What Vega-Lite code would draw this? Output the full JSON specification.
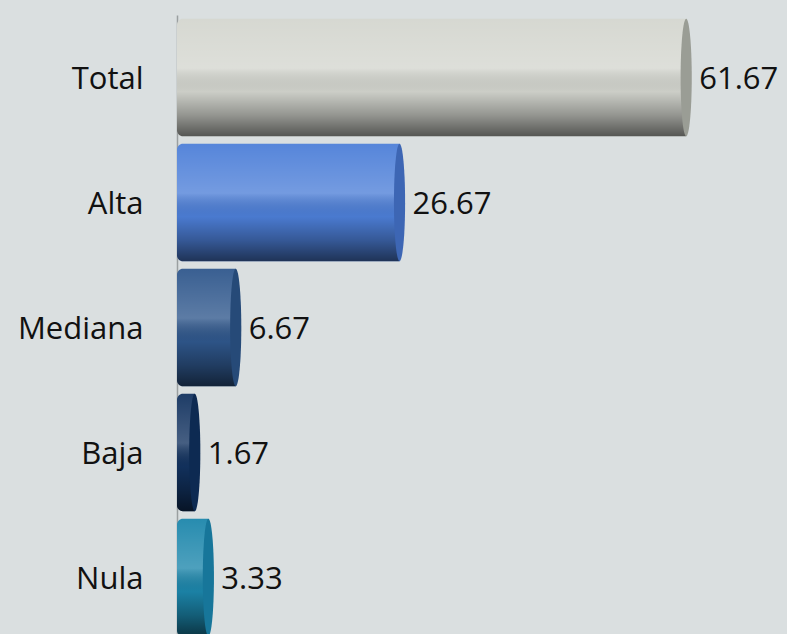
{
  "$schema": "https://vega.github.io/schema/vega-lite/v6.json",
  "autosize": {"type": "none"},
  "padding": {"left": 177, "top": 15, "right": 0, "bottom": 0},
  "width": 610,
  "height": 625,
  "background": "#dadfe0",
  "config": {
    "view": {"stroke": null},
    "font": "Open Sans"
  },
  "data": {
    "values": [
      {"cat": "Total", "value": 61.67},
      {"cat": "Alta", "value": 26.67},
      {"cat": "Mediana", "value": 6.67},
      {"cat": "Baja", "value": 1.67},
      {"cat": "Nula", "value": 3.33}
    ]
  },
  "encoding": {
    "y": {
      "field": "cat",
      "type": "nominal",
      "sort": null,
      "scale": {"paddingInner": 0.06, "paddingOuter": 0.03},
      "axis": {
        "title": null,
        "ticks": false,
        "grid": false,
        "domainColor": "#9a9fa0",
        "domainWidth": 1.5,
        "labelFontSize": 31,
        "labelColor": "#111111",
        "labelPadding": 34,
        "labelOffset": 2,
        "labelFont": "Open Sans"
      }
    },
    "x": {
      "field": "value",
      "type": "quantitative",
      "scale": {"domain": [-0.5, 73.98], "nice": false, "zero": false},
      "axis": null
    }
  },
  "layer": [
    {
      "mark": {"type": "bar", "cornerRadiusTopLeft": 6, "cornerRadiusBottomLeft": 6},
      "encoding": {
        "x2": {"datum": -0.5},
        "color": {
          "field": "cat",
          "type": "nominal",
          "sort": null,
          "scale": {
            "domain": ["Total", "Alta", "Mediana", "Baja", "Nula"],
            "range": ["#d4d6cf", "#4d7fd8", "#2f578c", "#12325f", "#1c86ab"]
          },
          "legend": null
        }
      }
    },
    {
      "mark": {
        "type": "bar",
        "cornerRadiusTopLeft": 6,
        "cornerRadiusBottomLeft": 6,
        "fill": {
          "gradient": "linear",
          "x1": 0, "y1": 0, "x2": 0, "y2": 1,
          "stops": [
            {"offset": 0, "color": "rgba(255,255,255,0.05)"},
            {"offset": 0.42, "color": "rgba(255,255,255,0.22)"},
            {"offset": 0.62, "color": "rgba(0,0,0,0.04)"},
            {"offset": 0.82, "color": "rgba(0,0,0,0.3)"},
            {"offset": 1, "color": "rgba(0,0,0,0.6)"}
          ]
        }
      },
      "encoding": {
        "x2": {"datum": -0.5}
      }
    },
    {
      "mark": {
        "type": "point",
        "shape": "M0,-1 A0.095,1 0 1,1 0,1 A0.095,1 0 1,1 0,-1 Z",
        "filled": true,
        "size": 13800,
        "opacity": 1
      },
      "encoding": {
        "color": {
          "field": "cat",
          "type": "nominal",
          "sort": null,
          "scale": {
            "domain": ["Total", "Alta", "Mediana", "Baja", "Nula"],
            "range": ["#9a9d95", "#3d66b4", "#264a78", "#0d2a52", "#17769a"]
          },
          "legend": null
        }
      }
    },
    {
      "mark": {
        "type": "text",
        "align": "left",
        "baseline": "middle",
        "dx": 13,
        "dy": 2,
        "fontSize": 31,
        "font": "Open Sans",
        "color": "#111111"
      },
      "encoding": {
        "text": {"field": "value", "type": "quantitative", "format": ".2f"}
      }
    }
  ],
  "resolve": {"scale": {"color": "independent"}}
}
